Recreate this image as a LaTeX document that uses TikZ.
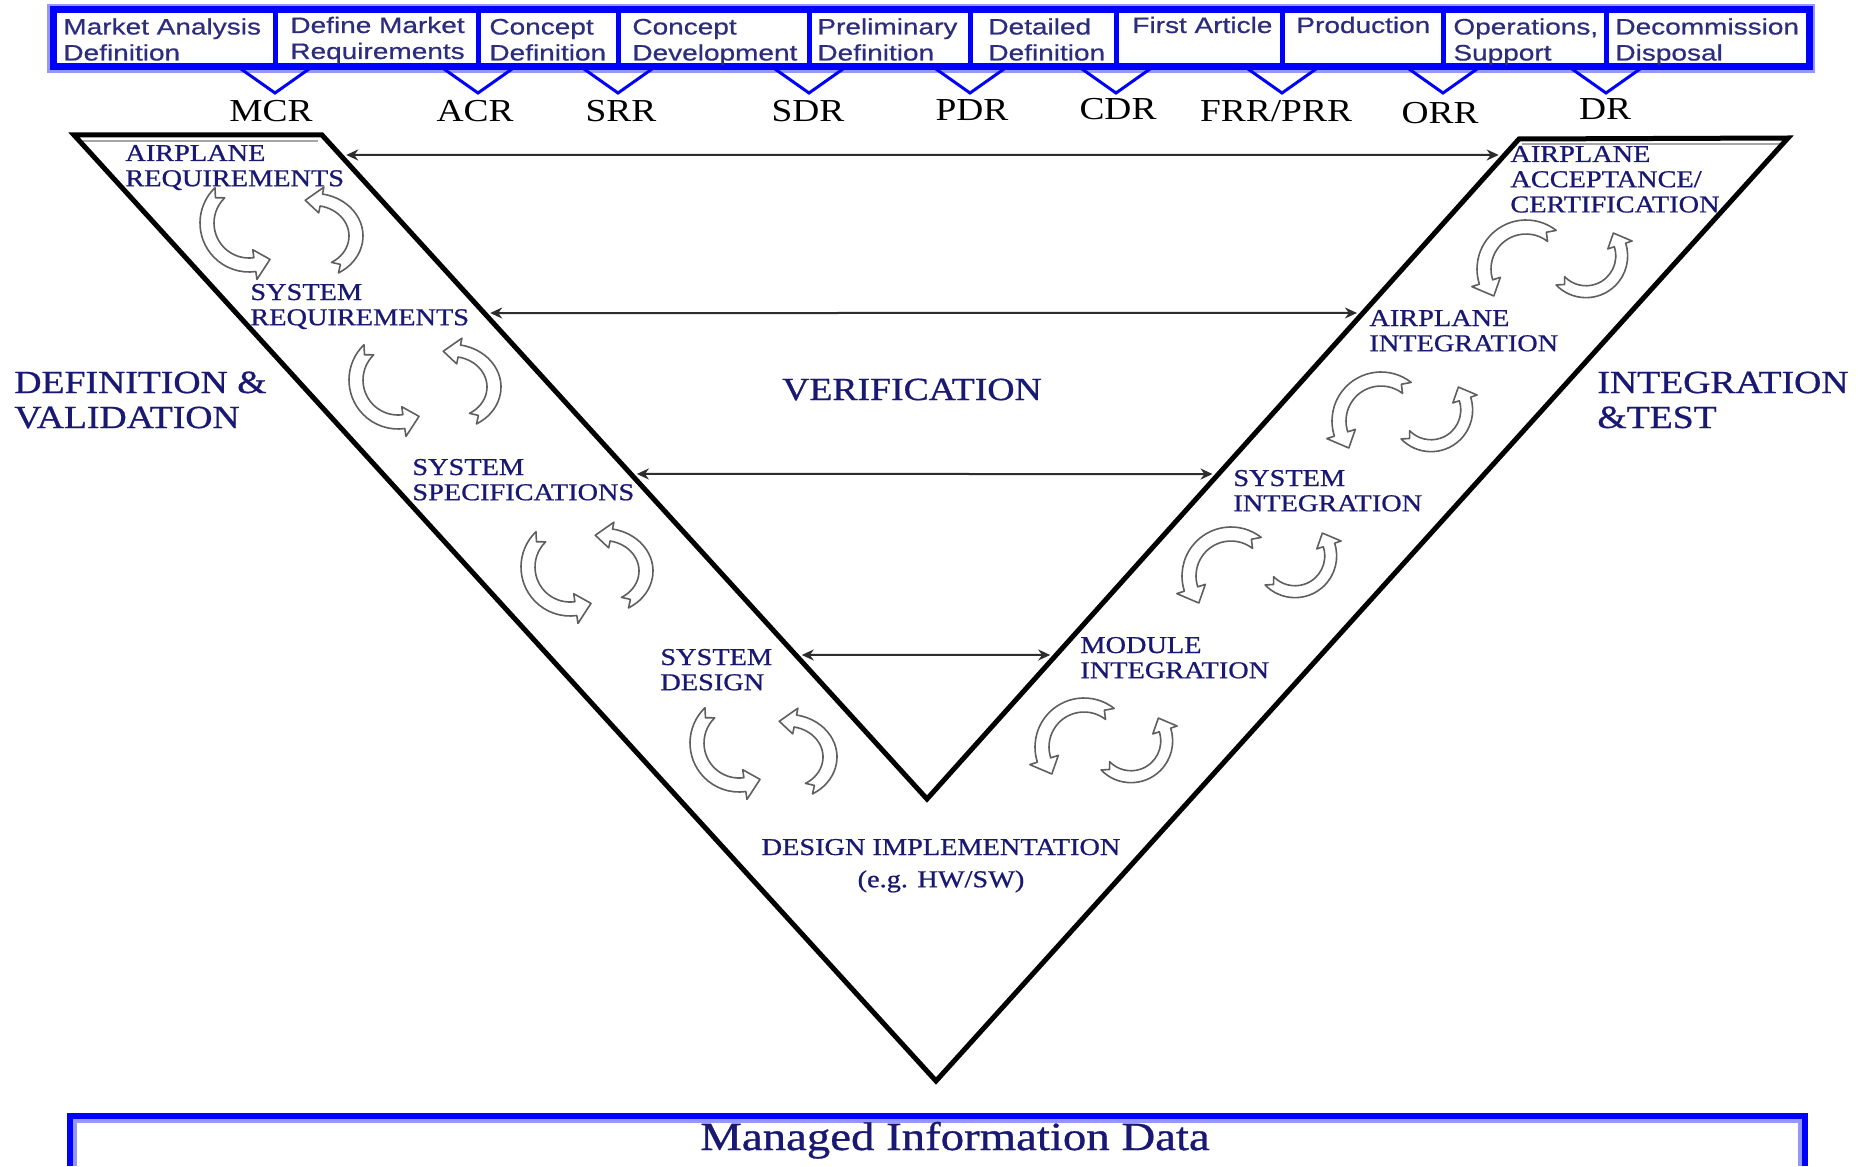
\documentclass[tikz,border=0pt]{standalone}
\usepackage{fontspec}
\setmainfont{Liberation Serif}
\newfontfamily\barfont[FakeStretch=1.25,FakeBold=0.7]{Liberation Sans}
\newfontfamily\serifw[FakeStretch=1.17]{Liberation Serif}
\newfontfamily\serifb[FakeStretch=1.17,FakeBold=0.8]{Liberation Serif}
\usetikzlibrary{arrows.meta,calc}
\newcommand{\linesL}[1]{\begin{tabular}[t]{@{}l@{}}#1\end{tabular}}
\newcommand{\linesC}[1]{\begin{tabular}[t]{@{}c@{}}#1\end{tabular}}
\definecolor{navy}{RGB}{25,25,115}
\definecolor{bartext}{RGB}{45,45,125}
\definecolor{vblue}{RGB}{0,0,255}
\definecolor{halo}{RGB}{150,150,255}
\definecolor{cycgray}{RGB}{95,95,95}
\definecolor{arrgray}{RGB}{45,45,45}
\tikzset{
  bartxt/.style={anchor=base west, inner sep=0pt, text=bartext, font=\barfont\fontsize{11.2}{13}\selectfont},
  review/.style={anchor=base, inner sep=0pt, text=black, font=\serifw\fontsize{16}{18}\selectfont},
  vlab/.style={anchor=base west, inner sep=0pt, text=navy, font=\serifb\fontsize{12.1}{12.6}\selectfont},
  biglab/.style={anchor=base west, inner sep=0pt, text=navy, font=\serifb\fontsize{16.1}{17.5}\selectfont},
  harrow/.style={{Stealth[length=6pt,width=5.5pt]}-{Stealth[length=6pt,width=5.5pt]}, line width=1pt, draw=arrgray, shorten <=3pt, shorten >=3pt},
  cyc/.style={draw=cycgray, line width=0.8pt, line join=round, fill=white},
  pics/carc/.style n args={2}{code={
    \draw[cyc, yscale=-1] (#1:49) arc[start angle=#1, end angle=#2, radius=49]
      -- (#2:57) -- ({#2+22}:42) -- (#2:27) -- (#2:35)
      arc[start angle=#2, end angle=#1, radius=35] -- ({#1+9}:42) -- cycle;
  }},
}
\begin{document}
\begin{tikzpicture}[x=0.5pt,y=-0.5pt]
\useasboundingbox (0,0) rectangle (1872,1166);
\fill[white] (0,0) rectangle (1872,1166);

% ---- top phase bar ----
\draw[halo, line width=2pt] (49,6) rectangle (1813,71);
\draw[vblue, line width=3.5pt] (53.5,9.5) rectangle (1809.5,67);
\foreach \x in {275,478,618,809,970,1116,1282,1443,1606} {
  \draw[vblue, line width=2.5pt] (\x,9.5) -- (\x,67);
  \draw[vblue, line width=1.5pt] (\x-34,69) -- (\x,93) -- (\x+34,69);
}
\node[bartxt] (b1) at (63,34.5) {\linesL{Market Analysis\\Definition}};
\node[bartxt] (b2) at (290,33) {\linesL{Define Market\\Requirements}};
\node[bartxt] (b3) at (489,34.5) {\linesL{Concept\\Definition}};
\node[bartxt] (b4) at (632,34.5) {\linesL{Concept\\Development}};
\node[bartxt] (b5) at (817,34.5) {\linesL{Preliminary\\Definition}};
\node[bartxt] (b6) at (988,34.5) {\linesL{Detailed\\Definition}};
\node[bartxt] (b7) at (1132,33) {First Article};
\node[bartxt] (b8) at (1296,33) {Production};
\node[bartxt] (b9) at (1453,34.5) {\linesL{Operations,\\Support}};
\node[bartxt] (b10) at (1615,34.5) {\linesL{Decommission\\Disposal}};

% ---- review labels ----
\node[review] (mcr) at (271,122) {MCR};
\node[review] (acr) at (475,122) {ACR};
\node[review] (srr) at (621,122) {SRR};
\node[review] (sdr) at (808,122) {SDR};
\node[review] (pdr) at (972,121) {PDR};
\node[review] (cdr) at (1118,120) {CDR};
\node[review] (frr) at (1276,122) {FRR/PRR};
\node[review] (orr) at (1440,124) {ORR};
\node[review] (dr)  at (1605,120) {DR};

% ---- V shape ----
\coordinate (OL) at (74,135);
\coordinate (IL) at (322,135);
\coordinate (IB) at (927,799);
\coordinate (IR) at (1519,139);
\coordinate (OR) at (1788,138);
\coordinate (OB) at (936,1081);
\draw[black!35, line width=1.2pt] (80,141) -- (318,141);
\draw[black!35, line width=1.2pt] (1522,144) -- (1782,144);
\draw[black, line width=2.5pt, line join=miter] (OL) -- (IL) -- (IB) -- (IR) -- (OR) -- (OB) -- cycle;

% ---- verification arrows ----
\coordinate (a1l) at ($(IL)!0.0301!(IB)$);
\coordinate (a1r) at ($(IR)!0.0242!(IB)$);
\coordinate (a2l) at ($(IL)!0.2681!(IB)$);
\coordinate (a2r) at ($(IR)!0.2636!(IB)$);
\coordinate (a3l) at ($(IL)!0.5105!(IB)$);
\coordinate (a3r) at ($(IR)!0.5076!(IB)$);
\coordinate (a4l) at ($(IL)!0.7831!(IB)$);
\coordinate (a4r) at ($(IR)!0.7818!(IB)$);
\draw[harrow] (a1l) -- (a1r);
\draw[harrow] (a2l) -- (a2r);
\draw[harrow] (a3l) -- (a3r);
\draw[harrow] (a4l) -- (a4r);

% ---- stage labels ----
\node[vlab] (arq) at (125,161) {\linesL{AIRPLANE\\REQUIREMENTS}};
\node[vlab] (srq) at (250,300) {\linesL{SYSTEM\\REQUIREMENTS}};
\node[vlab] (ssp) at (412,475) {\linesL{SYSTEM\\SPECIFICATIONS}};
\node[vlab] (sds) at (660,665) {\linesL{SYSTEM\\DESIGN}};
\node[vlab, anchor=base] (dim) at (941,855) {\linesC{DESIGN IMPLEMENTATION\\[3.5pt](e.g. HW/SW)}};
\node[vlab] (mod) at (1080,653) {\linesL{MODULE\\INTEGRATION}};
\node[vlab] (sin) at (1233,486) {\linesL{SYSTEM\\INTEGRATION}};
\node[vlab] (ain) at (1369,326) {\linesL{AIRPLANE\\INTEGRATION}};
\node[vlab] (aac) at (1510,162) {\linesL{AIRPLANE\\ACCEPTANCE/\\CERTIFICATION}};

\node[biglab, anchor=base] (ver) at (912,400) {VERIFICATION};
\node[biglab] (dv) at (14,393) {\linesL{DEFINITION \&\\VALIDATION}};
\node[biglab] (it) at (1597,393) {\linesL{INTEGRATION\\\&TEST}};

% ---- cycle arrows ----
\foreach \lx/\ly/\rx/\ry in {249/223/314/236, 398/380/452/387, 570/567/604/571, 739/743/788/757} {
  \pic at (\lx,\ly) {carc={134}{278}};
  \pic[yscale=0.87] at (\rx,\ry) {carc={-60}{80}};
}
\foreach \lx/\ly/\rx/\ry in {1526/269/1586/256, 1381/421/1431/410, 1231/576/1295/556, 1084/747/1131/741} {
  \pic at (\lx,\ly) {carc={52}{198}};
  \pic[scale=0.85] at (\rx,\ry) {carc={224}{378}};
}

% ---- managed information data ----
\draw[halo, line width=2pt] (75,1166) -- (75,1120.5) -- (1800,1120.5) -- (1800,1166);
\draw[vblue, line width=3pt] (70,1166) -- (70,1116) -- (1805,1116) -- (1805,1166);
\node[anchor=base, inner sep=0pt, text=navy, font=\serifb\fontsize{20}{22}\selectfont] (mid) at (955,1150) {Managed Information Data};
\end{tikzpicture}
\end{document}
